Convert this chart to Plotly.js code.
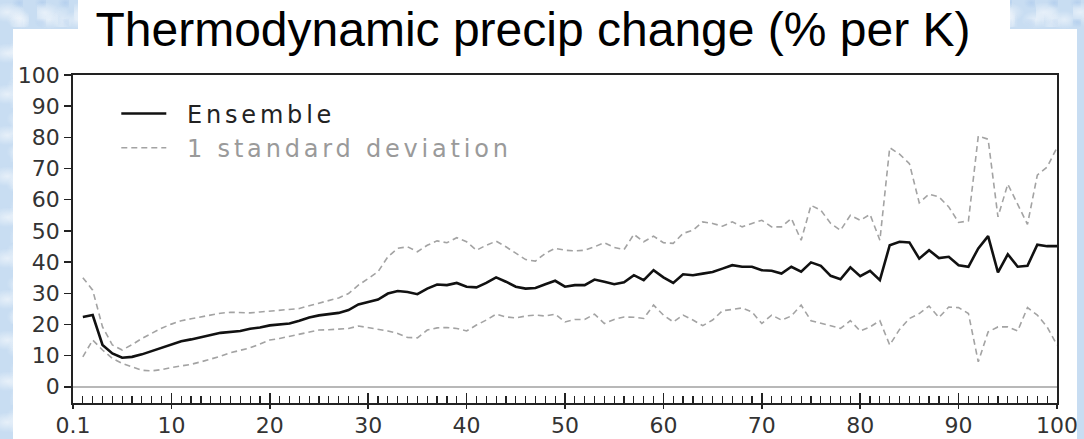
<!DOCTYPE html>
<html>
<head>
<meta charset="utf-8">
<script src="https://cdn.plot.ly/plotly-3.0.1.min.js"></script>
<style>
  html, body { margin: 0; padding: 0; }
  body {
    width: 1084px; height: 439px; overflow: hidden; position: relative;
    background-color: #c8ddf2;
    background-image:
      radial-gradient(ellipse 18px 10px at 20% 30%, rgba(255,255,255,0.55), rgba(255,255,255,0) 100%),
      radial-gradient(ellipse 14px 9px at 70% 60%, rgba(255,255,255,0.5), rgba(255,255,255,0) 100%),
      radial-gradient(ellipse 10px 16px at 45% 80%, rgba(255,255,255,0.45), rgba(255,255,255,0) 100%),
      radial-gradient(ellipse 8px 6px at 85% 15%, rgba(170,200,235,0.6), rgba(170,200,235,0) 100%);
    background-size: 37px 41px, 29px 33px, 43px 27px, 23px 19px;
  }
  #panel { position: absolute; left: 13px; top: 29px; width: 1064px; height: 410px; background: #fff; }
  #titlebox { position: absolute; left: 78px; top: 0; width: 932px; height: 30px; background: #fff; }
  #chart { position: absolute; left: 0; top: 0; width: 1084px; height: 439px; }
  #rightcover { position: absolute; left: 1077px; top: 29px; width: 7px; height: 410px; background-color: #c8ddf2; }
  .legendtext { letter-spacing: 3.8px; }
</style>
</head>
<body>
<div id="panel"></div>
<div id="titlebox"></div>
<div id="chart"></div>
<div id="rightcover"></div>
<script>
// Percentile (x) positions
const percentile = [1,2,3,4,5,6,7,8,9,10,11,12,13,14,15,16,17,18,19,20,
  21,22,23,24,25,26,27,28,29,30,31,32,33,34,35,36,37,38,39,40,
  41,42,43,44,45,46,47,48,49,50,51,52,53,54,55,56,57,58,59,60,
  61,62,63,64,65,66,67,68,69,70,71,72,73,74,75,76,77,78,79,80,
  81,82,83,84,85,86,87,88,89,90,91,92,93,94,95,96,97,98,99,100];

// Ensemble mean (% per K)
const ensemble = [22.4,23.0,13.4,10.7,9.3,9.6,10.4,11.4,12.5,13.6,
  14.6,15.2,15.8,16.6,17.3,17.6,17.9,18.6,19.0,19.7,
  20.0,20.3,21.2,22.2,22.9,23.3,23.7,24.6,26.4,27.2,
  28.0,29.9,30.7,30.4,29.7,31.5,32.8,32.6,33.3,32.1,
  31.9,33.3,35.1,33.7,32.1,31.5,31.7,32.9,34.0,32.1,
  32.6,32.6,34.4,33.7,32.9,33.5,35.8,34.2,37.4,35.1,
  33.3,36.1,35.8,36.3,36.8,37.9,39.0,38.5,38.5,37.4,
  37.2,36.3,38.5,36.9,39.9,38.8,35.6,34.5,38.3,35.5,
  37.2,34.2,45.4,46.5,46.3,41.1,43.8,41.3,41.7,39.0,
  38.5,44.4,48.3,36.7,42.5,38.5,38.8,45.6,45.1,45.1];

// Ensemble + 1 standard deviation
const upperSD = [35.0,31.0,19.2,13.4,11.8,13.5,15.5,17.2,18.8,20.1,
  21.2,21.8,22.4,23.0,23.6,23.9,23.8,23.7,24.0,24.3,
  24.4,24.7,25.1,26.0,26.9,27.7,28.5,29.9,32.6,34.7,
  36.9,41.7,44.4,44.9,43.3,45.4,46.8,46.2,47.8,46.5,
  43.8,45.4,46.7,44.9,42.8,40.8,40.3,42.8,44.4,43.8,
  43.6,43.8,44.9,46.2,44.7,44.0,48.9,46.5,48.3,46.2,
  46.0,49.2,50.2,52.9,52.4,51.5,52.9,51.3,52.4,53.4,
  51.3,51.3,54.0,47.0,58.2,56.6,52.4,50.2,55.0,53.4,
  55.3,47.0,76.7,74.6,71.6,59.0,61.8,60.9,57.7,52.7,
  53.2,80.4,79.4,54.5,65.0,58.8,52.1,67.9,70.5,76.7];

// Ensemble - 1 standard deviation
const lowerSD = [9.6,15.0,11.8,9.1,7.5,6.3,5.3,5.1,5.5,6.2,
  6.7,7.2,8.0,8.8,9.8,10.9,11.6,12.5,13.7,15.0,
  15.5,16.2,16.9,17.6,18.2,18.3,18.4,18.7,19.5,19.0,
  18.4,17.9,17.1,15.8,15.7,18.2,18.9,19.0,18.7,17.9,
  19.8,21.4,23.3,22.4,22.1,22.7,23.0,22.7,23.3,20.8,
  21.6,21.6,23.3,20.3,21.6,22.4,22.3,21.9,26.2,23.0,
  20.8,23.0,21.4,19.6,21.4,24.4,24.8,25.3,24.0,20.3,
  23.0,21.4,22.7,26.2,21.2,20.5,19.6,18.7,21.2,17.9,
  19.2,21.2,13.4,18.4,21.9,23.5,25.9,22.2,25.6,25.4,
  23.5,8.0,17.6,19.2,19.2,17.9,25.4,23.0,19.2,13.4];

// Axis ticks
const xTickVals = [0,10,20,30,40,50,60,70,80,90,100];
const xTickText = ['0.1','10','20','30','40','50','60','70','80','90','100'];
const yTickVals = [0,10,20,30,40,50,60,70,80,90,100];

const gap = '\u2002';
const sdColor = '#a3a3a3';
const traces = [
  {x: percentile, y: ensemble, type: 'scatter', mode: 'lines', name: gap + 'Ensemble',
   line: {color: '#111', width: 2.6}, hoverinfo: 'skip'},
  {x: percentile, y: upperSD, type: 'scatter', mode: 'lines',
   name: gap + '<span style="color:#9a9a9a">1 standard deviation</span>', legendgroup: 'sd',
   line: {color: sdColor, width: 1.6, dash: '6px,4px'}, hoverinfo: 'skip'},
  {x: percentile, y: lowerSD, type: 'scatter', mode: 'lines', name: 'lower', legendgroup: 'sd', showlegend: false,
   line: {color: sdColor, width: 1.6, dash: '6px,4px'}, hoverinfo: 'skip'},
  {x: [], y: [], xaxis: 'x2', type: 'scatter', mode: 'lines', showlegend: false, hoverinfo: 'skip'}
];

const layout = {
  width: 1084, height: 439,
  margin: {l: 73, r: 27, t: 75, b: 36, pad: 0},
  paper_bgcolor: 'rgba(0,0,0,0)',
  plot_bgcolor: '#ffffff',
  showlegend: true,
  title: {
    text: 'Thermodynamic precip change (% per K)',
    font: {family: 'Liberation Sans, Arial, sans-serif', size: 48, color: '#000'},
    x: 533/1084, xanchor: 'center', xref: 'container',
    y: 1 - 12/439, yanchor: 'top', yref: 'container'
  },
  xaxis: {
    range: [0, 100], tickmode: 'array', tickvals: xTickVals, ticktext: xTickText,
    ticks: 'inside', ticklen: 10, tickwidth: 1.5, tickcolor: '#222',
    showline: true, linecolor: '#222', linewidth: 1.8, mirror: true,
    showgrid: false, zeroline: false,
    tickfont: {family: 'DejaVu Sans, sans-serif', size: 22, color: '#333'},
    ticklabelstandoff: 2,
    minor: {tickmode: 'linear', tick0: 0, dtick: 1, ticks: 'inside', ticklen: 7, tickwidth: 1.2, tickcolor: '#222', showgrid: false}
  },
  xaxis2: {
    overlaying: 'x', matches: 'x', anchor: 'y', side: 'bottom',
    range: [0, 100], tickmode: 'array', tickvals: xTickVals,
    ticks: 'outside', ticklen: 5, tickwidth: 1.5, tickcolor: '#222',
    showticklabels: false, showline: false, showgrid: false, zeroline: false
  },
  yaxis: {
    range: [-5.2, 100], tickmode: 'array', tickvals: yTickVals,
    ticks: 'outside', ticklen: 7, tickwidth: 1.5, tickcolor: '#222',
    showline: true, linecolor: '#222', linewidth: 1.8, mirror: true,
    showgrid: false, zeroline: true, zerolinecolor: '#b8b8b8', zerolinewidth: 1.6,
    tickfont: {family: 'DejaVu Sans, sans-serif', size: 22, color: '#333'},
    ticklabelstandoff: 0
  },
  legend: {
    x: 0.044, xanchor: 'left', y: 0.95, yanchor: 'top',
    bgcolor: 'rgba(0,0,0,0)', borderwidth: 0,
    font: {family: 'DejaVu Sans, sans-serif', size: 24, color: '#222'},
    itemwidth: 45, tracegroupgap: 0
  }
};

Plotly.newPlot('chart', traces, layout, {displayModeBar: false, staticPlot: true});
</script>
</body>
</html>
